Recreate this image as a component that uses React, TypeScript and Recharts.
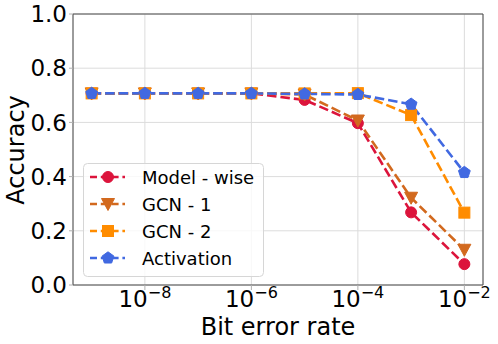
import React from 'react';
import { LineChart, Line, XAxis, YAxis, CartesianGrid, ReferenceLine, Label } from 'recharts';

const bitErrorRates = [1e-9, 1e-8, 1e-7, 1e-6, 1e-5, 1e-4, 1e-3, 1e-2];
const modelWise = [0.707, 0.707, 0.707, 0.707, 0.683, 0.597, 0.268, 0.077];
const gcn1 = [0.707, 0.707, 0.707, 0.707, 0.703, 0.607, 0.322, 0.13];
const gcn2 = [0.707, 0.707, 0.707, 0.707, 0.707, 0.708, 0.627, 0.267];
const activation = [0.707, 0.707, 0.707, 0.707, 0.705, 0.703, 0.667, 0.415];
const xTicks = [1e-8, 1e-6, 1e-4, 1e-2];
const yTicks = [0, 0.2, 0.4, 0.6, 0.8, 1.0];

const seriesDefs = [
  { key: 'modelWise', name: 'Model - wise', color: '#DC143C', shape: 'circle' },
  { key: 'gcn1', name: 'GCN - 1', color: '#D2691E', shape: 'tri' },
  { key: 'gcn2', name: 'GCN - 2', color: '#FF8C00', shape: 'square' },
  { key: 'activation', name: 'Activation', color: '#4169E1', shape: 'pent' },
];

const data = bitErrorRates.map((ber, i) => ({
  ber,
  modelWise: modelWise[i],
  gcn1: gcn1[i],
  gcn2: gcn2[i],
  activation: activation[i],
}));

const FONT = '"DejaVu Sans", sans-serif';
const DASH = '9.5 4';
const LW = 2.6;
const SPINE = '#4a4a4a';
const TICK = '#b0b0b0';

function marker(shape: string, cx: number, cy: number, color: string, key?: any) {
  if (shape === 'circle') return <circle key={key} cx={cx} cy={cy} r={5.5} fill={color} stroke={color} />;
  if (shape === 'tri') {
    const pts = `${cx - 6.5},${cy - 5.5} ${cx + 6.5},${cy - 5.5} ${cx},${cy + 6.5}`;
    return <polygon key={key} points={pts} fill={color} stroke={color} />;
  }
  if (shape === 'square') return <rect key={key} x={cx - 5.5} y={cy - 5.5} width={11} height={11} fill={color} stroke={color} />;
  const r = 6.2;
  const pts = [0, 1, 2, 3, 4]
    .map((k) => {
      const a = -Math.PI / 2 + (k * 2 * Math.PI) / 5;
      return `${cx + r * Math.cos(a)},${cy + r * Math.sin(a)}`;
    })
    .join(' ');
  return <polygon key={key} points={pts} fill={color} stroke={color} />;
}

const mkDot = (shape: string, color: string) => (props: any) => {
  const { cx, cy, index } = props;
  if (cx == null || cy == null) return <g key={`n${index}`} />;
  return marker(shape, cx, cy, color, `${shape}${index}`);
};

const XTick = (props: any) => {
  const { x, y, payload } = props;
  const e = Math.round(Math.log10(payload.value));
  return (
    <text x={x} y={y + 15} textAnchor="middle" fontFamily={FONT} fontSize={23} fill="#000">
      <tspan>10</tspan>
      <tspan dy={-9} fontSize={16}>{`\u2212${-e}`}</tspan>
    </text>
  );
};

const LegendBox = () => (
  <svg width={181} height={114} style={{ display: 'block' }}>
    <rect x={0.5} y={0.5} width={180} height={113} rx={4} ry={4} fill="rgba(255,255,255,0.8)" stroke="#d6d6d6" />
    {seriesDefs.map((s, i) => {
      const cy = 14 + i * 27;
      return (
        <g key={s.key}>
          <line x1={7} x2={42} y1={cy} y2={cy} stroke={s.color} strokeWidth={LW} strokeDasharray="7 3.8" />
          {marker(s.shape, 25, cy, s.color)}
          <text x={59} y={cy} dominantBaseline="central" fontFamily={FONT} fontSize={18} fill="#000">
            {s.name}
          </text>
        </g>
      );
    })}
  </svg>
);

export default function App() {
  const lo = Math.pow(10, -9.35);
  const hi = Math.pow(10, -1.65);
  return (
    <div style={{ position: 'absolute', left: 0, top: 0, width: 498, height: 344, background: '#fff' }}>
      <LineChart width={498} height={344} data={data} margin={{ top: 14, right: 15, left: 0, bottom: 0 }}>
        <CartesianGrid stroke="#dcdcdc" strokeWidth={1} />
        <XAxis
          dataKey="ber"
          type="number"
          scale="log"
          domain={[lo, hi]}
          allowDataOverflow
          ticks={xTicks}
          height={59}
          tick={<XTick />}
          tickSize={5}
          tickMargin={2}
          tickLine={{ stroke: TICK }}
          axisLine={{ stroke: SPINE }}
          interval={0}
        >
          <Label
            content={() => (
              <text x={278} y={335} textAnchor="middle" fontFamily={FONT} fontSize={24} fill="#000">
                Bit error rate
              </text>
            )}
          />
        </XAxis>
        <YAxis
          type="number"
          domain={[0, 1]}
          ticks={yTicks}
          width={73}
          tickFormatter={(v: number) => v.toFixed(1)}
          tick={{ fontFamily: FONT, fontSize: 23, fill: '#000' }}
          tickSize={4}
          tickMargin={2}
          tickLine={{ stroke: TICK }}
          axisLine={{ stroke: SPINE }}
          interval={0}
        >
          <Label
            content={() => (
              <text
                x={16}
                y={150}
                transform="rotate(-90,16,150)"
                textAnchor="middle"
                dominantBaseline="central"
                fontFamily={FONT}
                fontSize={24}
                fill="#000"
              >
                Accuracy
              </text>
            )}
          />
        </YAxis>
        <ReferenceLine y={1} stroke={SPINE} strokeWidth={1} />
        <ReferenceLine x={hi} stroke={SPINE} strokeWidth={1} />
        {seriesDefs.map((s) => (
          <Line
            key={s.key}
            dataKey={s.key}
            name={s.name}
            type="linear"
            stroke={s.color}
            strokeWidth={LW}
            strokeDasharray={DASH}
            dot={mkDot(s.shape, s.color)}
            activeDot={false}
            isAnimationActive={false}
          />
        ))}
      </LineChart>
      <div style={{ position: 'absolute', left: 83, top: 163, width: 181, height: 114 }}>
        <LegendBox />
      </div>
    </div>
  );
}
